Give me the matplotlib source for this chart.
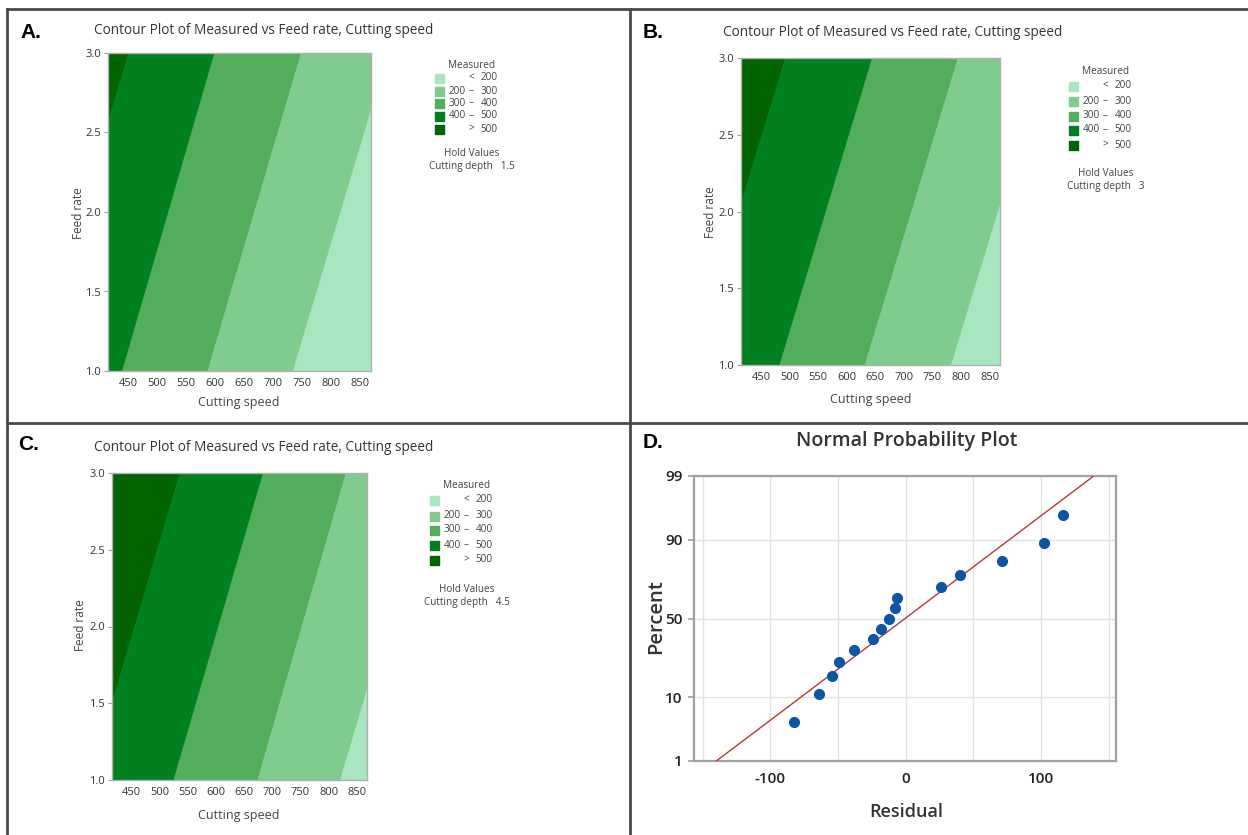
import numpy as np
import matplotlib
matplotlib.use("Agg")
import matplotlib.pyplot as plt
from matplotlib.patches import Rectangle
from matplotlib.lines import Line2D
from statistics import NormalDist

plt.rcParams['font.family'] = ['Open Sans', 'DejaVu Sans']
plt.rcParams['axes.unicode_minus'] = False

# ---------------- data ----------------
speed_ticks = [450, 500, 550, 600, 650, 700, 750, 800, 850]
feed_ticks = [1.0, 1.5, 2.0, 2.5, 3.0]
speed_range = (415, 868)
feed_range = (1.0, 3.0)

# contour boundaries (Measured = 500, 400, 300, 200): cutting speed at feed 1.0 and 3.0
boundary_levels = [500, 400, 300, 200]
A_speed_at_feed1 = [286, 439, 586, 733]
A_speed_at_feed3 = [450, 598, 747, 897]
B_speed_at_feed1 = [328, 482, 631, 782]
B_speed_at_feed3 = [492, 644, 794, 946]
C_speed_at_feed1 = [374, 524, 673, 820]
C_speed_at_feed3 = [535, 683, 830, 981]

band_labels = [("", "<", "200"), ("200", "–", "300"), ("300", "–", "400"),
               ("400", "–", "500"), ("", ">", "500")]
band_colors = ['#a8e6bf', '#80cc8e', '#52ae5b', '#00801f', '#006400']  # <200 ... >500
hold_depths = ["1.5", "3", "4.5"]

# normal probability plot
residuals = [-82.7, -64.2, -54.3, -49.4, -38.5, -24.0, -18.0, -12.3, -8.1, -6.2,
             25.9, 40.0, 71.4, 102.0, 116.0]
percents = [4.5, 11.0, 17.5, 24.0, 30.5, 37.0, 43.5, 50.0, 56.5, 63.0,
            69.5, 76.0, 82.5, 89.0, 95.5]
fit_residual = [-140, 139]
fit_percent = [1, 99]
pct_ticks = [1, 10, 50, 90, 99]
res_ticks = [-100, 0, 100]
res_minor = [-150, -50, 50, 150]

# ---------------- figure ----------------
W, H = 1248, 835
fig = plt.figure(figsize=(W / 100, H / 100), dpi=100)


def add_ax(l, t, r, b):
    return fig.add_axes([l / W, 1 - b / H, (r - l) / W, (b - t) / H])


def ftext(x, y, s, **kw):
    kw.setdefault('ha', 'center')
    kw.setdefault('va', 'center')
    fig.text(x / W, 1 - y / H, s, **kw)


def fline(x0, y0, x1, y1):
    fig.add_artist(Line2D([x0 / W, x1 / W], [1 - y0 / H, 1 - y1 / H],
                          color='#4a4a4a', lw=2, transform=fig.transFigure))


# panel dividers / frame
fline(7, 9, 1248, 9)
fline(7, 9, 7, 835)
fline(630, 9, 630, 835)
fline(7, 423, 1248, 423)

title_txt = "Contour Plot of Measured vs Feed rate, Cutting speed"
LEG_FS = 7.2


def contour_panel(box, f1, f3, letter, letter_xy, title_xy, ylab_xy, xlab_xy,
                  leg_x, leg_rows_y, leg_title_y, hold_y, depth):
    ax = add_ax(*box)
    feeds = [feed_range[0], feed_range[1]]
    far_left = [0, 0]
    far_right = [2000, 2000]
    # bands from >500 (left) to <200 (right)
    edges = [far_left] + [[a, b] for a, b in zip(f1, f3)] + [far_right]
    colors_lr = band_colors[::-1]
    for i in range(5):
        ax.fill_betweenx(feeds, edges[i], edges[i + 1], color=colors_lr[i],
                         lw=0.6, edgecolor=colors_lr[i])
    ax.set_xlim(*speed_range)
    ax.set_ylim(*feed_range)
    ax.set_xticks(speed_ticks)
    ax.set_yticks(feed_ticks)
    ax.set_yticklabels([f"{v:.1f}" for v in feed_ticks])
    ax.tick_params(axis='both', labelsize=8, colors='#333333', length=3,
                   width=0.8, pad=2)
    ax.tick_params(axis='x', length=0, pad=5)
    ax.tick_params(axis='y', color='#a0a0a0')
    for s in ax.spines.values():
        s.set_color('#b0b0b0')
        s.set_linewidth(1.0)
    ftext(*letter_xy, letter, fontsize=15, fontweight='bold', ha='left',
          family=['Liberation Sans', 'DejaVu Sans'])
    ftext(*title_xy, title_txt, fontsize=9.8, color='#333333')
    ftext(*ylab_xy, "Feed rate", fontsize=8.5, rotation=90, color='#444444')
    ftext(*xlab_xy, "Cutting speed", fontsize=9, color='#444444')
    # legend
    sx = leg_x
    ftext(sx + 37, leg_title_y, "Measured", fontsize=LEG_FS, color='#444444')
    for (lo, mid, hi), col, yy in zip(band_labels, band_colors, leg_rows_y):
        fig.add_artist(Rectangle((sx / W, 1 - (yy + 4.5) / H), 9 / W, 9 / H,
                                 color=col, transform=fig.transFigure))
        if lo:
            ftext(sx + 22, yy, lo, fontsize=LEG_FS, color='#444444', ha='center')
        ftext(sx + 36, yy, mid, fontsize=LEG_FS, color='#444444', ha='center')
        ftext(sx + 54, yy, hi, fontsize=LEG_FS, color='#444444', ha='center')
    ftext(sx + 37, hold_y, "Hold Values", fontsize=LEG_FS, color='#444444')
    ftext(sx + 37, hold_y + 13, f"Cutting depth   {depth}", fontsize=LEG_FS,
          color='#444444')
    return ax


contour_panel((108, 53, 371, 371), A_speed_at_feed1, A_speed_at_feed3, "A.",
              (20, 33), (264, 30), (79, 213), (239, 402),
              435, [78, 91, 103, 116, 129], 65, 154, hold_depths[0])
contour_panel((741, 58, 1000, 365), B_speed_at_feed1, B_speed_at_feed3, "B.",
              (643, 33), (893, 33), (710, 212), (871, 400),
              1069, [86, 101, 116, 130, 145], 71, 174, hold_depths[1])
contour_panel((112, 473, 367, 780), C_speed_at_feed1, C_speed_at_feed3, "C.",
              (18, 445), (264, 447), (80, 625), (239, 816),
              430, [500, 516, 530, 545, 560], 486, 589, hold_depths[2])

# ---------------- normal probability plot ----------------
nd = NormalDist()


def _fwd(p):
    p = np.asarray(p, dtype=float)
    q = np.clip(p / 100.0, 1e-9, 1 - 1e-9)
    return np.vectorize(nd.inv_cdf, otypes=[float])(q)


def _inv(z):
    z = np.asarray(z, dtype=float)
    return np.vectorize(nd.cdf, otypes=[float])(z) * 100.0


axd = add_ax(694, 476, 1116, 761)
axd.set_yscale('function', functions=(_fwd, _inv))
axd.set_ylim(1, 99)
axd.set_xlim(-156.5, 155.5)
axd.set_yticks(pct_ticks)
axd.set_yticklabels([str(v) for v in pct_ticks])
axd.yaxis.set_minor_locator(matplotlib.ticker.NullLocator())
axd.set_xticks(res_ticks)
axd.set_xticks(res_minor, minor=True)
axd.grid(True, which='both', color='#e2e2e2', lw=1.0)
axd.set_axisbelow(True)
axd.plot(fit_residual, fit_percent, color='#b8383a', lw=1.0, zorder=3)
axd.plot(residuals, percents, 'o', color='#0b55a8', ms=7, zorder=4)
for s in axd.spines.values():
    s.set_color('#a0a0a0')
    s.set_linewidth(1.6)
axd.tick_params(axis='both', labelsize=11, colors='#222222', pad=4)
axd.tick_params(axis='y', length=4, color='#a0a0a0', width=1.2)
axd.tick_params(axis='x', which='both', length=0, pad=8)
for lbl in axd.get_xticklabels() + axd.get_yticklabels():
    lbl.set_fontweight('semibold')
ftext(643, 442, "D.", fontsize=15, fontweight='bold', ha='left',
      family=['Liberation Sans', 'DejaVu Sans'])
ftext(907, 441, "Normal Probability Plot", fontsize=14, color='#333333',
      fontweight='semibold')
ftext(656, 617, "Percent", fontsize=14.5, rotation=90, color='#333333',
      fontweight='semibold')
ftext(906, 812, "Residual", fontsize=13, color='#333333', fontweight='semibold')

fig.savefig("out.png", dpi=100)
